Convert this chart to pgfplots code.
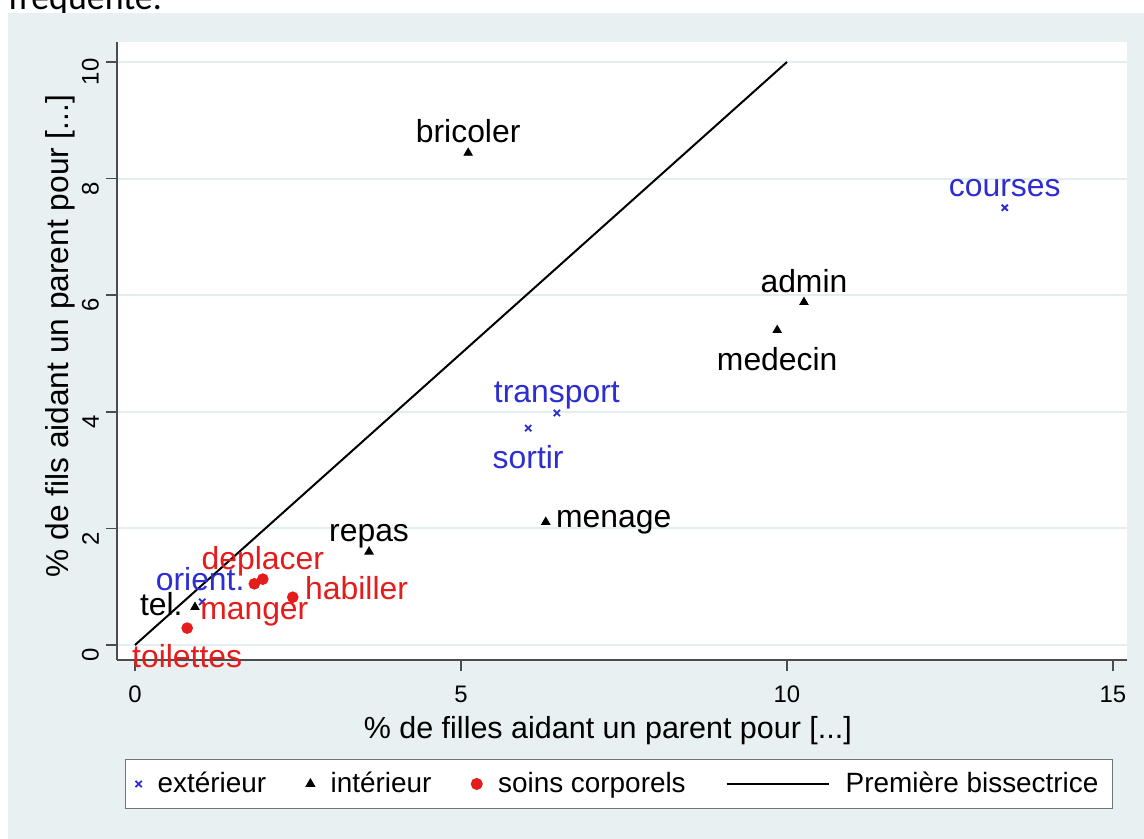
\documentclass[border=0pt]{standalone}
\usepackage{pgfplots}
\pgfplotsset{compat=1.18}
\usepackage{fontspec}
\setmainfont{Liberation Sans}
\newfontfamily\carlito{Carlito}

\definecolor{stblue}{RGB}{45,45,210}
\definecolor{stred}{RGB}{228,28,28}
\definecolor{bgblue}{RGB}{232,240,242}
\definecolor{gridc}{RGB}{228,237,240}

\pgfplotsset{
  ext/.style={mark=x, mark size=2.2bp, color=stblue, line width=0.9bp},
  int/.style={mark=triangle*, mark size=2.4bp, color=black},
  soin/.style={mark=*, mark size=2.7bp, color=stred},
  bislegend/.style={legend image code/.code={%
    \draw[black, line width=1bp] (0bp,0bp) -- (51bp,0bp);}},
  % text colour, anchor, xshift, yshift
  lbl/.style n args={4}{
    only marks, forget plot,
    point meta=explicit symbolic,
    nodes near coords={\pgfplotspointmeta},
    nodes near coords style={anchor=#2, xshift=#3, yshift=#4,
      inner sep=0pt, text=#1, font=\fontsize{16}{18}\selectfont},
  },
}

\begin{document}
\begin{tikzpicture}
\fill[white] (0,0) rectangle (572bp,419.5bp);
\fill[bgblue] (4bp,0) rectangle (572bp,413bp);
\begin{scope}
  \clip (0,413bp) rectangle (572bp,419.5bp);
  \node[anchor=base west, inner sep=0pt, font=\carlito\fontsize{18}{20}\selectfont]
    at (4bp,414.5bp) {fréquente.};
\end{scope}
\begin{axis}[
  at={(58.5bp,89.5bp)}, anchor=south west,
  scale only axis, width=505bp, height=309bp,
  xmin=-0.276, xmax=15.215, ymin=-0.257, ymax=10.343,
  axis lines*=left,
  axis line style={black!70, line width=0.8bp},
  axis background/.style={fill=white},
  xtick={0,5,10,15}, ytick={0,2,4,6,8,10},
  tick align=outside, major tick length=5.5bp,
  tick style={black!70, line width=0.8bp},
  ymajorgrids, grid style={gridc, line width=1bp},
  /pgf/number format/assume math mode=true,
  ticklabel style={font=\fontsize{12}{14}\selectfont},
  xticklabel style={yshift=-4bp},
  yticklabel style={rotate=90, anchor=south, xshift=-5bp},
  clip=false,
  xlabel={\% de filles aidant un parent pour [...]},
  ylabel={\% de fils aidant un parent pour [...]},
  xlabel style={font=\fontsize{15.3}{17}\selectfont,
    at={(axis description cs:0.486,-0.114)}, anchor=center},
  ylabel style={font=\fontsize{15.9}{18}\selectfont,
    at={(axis description cs:-0.0564,0.524)}, anchor=center},
  legend columns=4,
  legend style={at={(axis description cs:0.497,-0.2006)}, anchor=center,
    draw=black!55, fill=white, line width=0.6bp,
    font=\fontsize{14}{16}\selectfont,
    inner xsep=5bp, inner ysep=4.5bp,
    nodes={inner sep=2bp},
    /tikz/every odd column/.append style={column sep=6bp},
    /tikz/every even column/.append style={column sep=18bp}},
]
% exterieur
\addplot[ext, lbl={stblue}{base}{0bp}{5.5bp}] coordinates {(13.34,7.50) [courses]};
\addplot[ext, lbl={stblue}{base}{0bp}{5bp}] coordinates {(6.47,3.98) [transport]};
\addplot[ext, lbl={stblue}{base}{0bp}{-20bp}] coordinates {(6.03,3.72) [sortir]};
\addplot[ext, lbl={stblue}{base}{-1bp}{5.5bp}] coordinates {(1.03,0.74) [orient.]};
% interieur
\addplot[int, lbl={black}{base}{0bp}{5bp}] coordinates {(5.11,8.44) [bricoler]};
\addplot[int, lbl={black}{base}{0bp}{5bp}] coordinates {(10.26,5.88) [admin]};
\addplot[int, lbl={black}{base}{0bp}{-20bp}] coordinates {(9.85,5.40) [medecin]};
\addplot[int, lbl={black}{mid west}{5bp}{0bp}] coordinates {(6.30,2.11) [menage]};
\addplot[int, lbl={black}{base}{0bp}{5bp}] coordinates {(3.59,1.60) [repas]};
\addplot[int, lbl={black}{mid east}{-6bp}{-1.5bp}] coordinates {(0.92,0.65) [tel.]};
% soins corporels
\addplot[soin, lbl={stred}{base}{0bp}{5bp}] coordinates {(1.96,1.13) [deplacer]};
\addplot[soin, lbl={stred}{base}{0bp}{-18bp}] coordinates {(1.83,1.05) [manger]};
\addplot[soin, lbl={stred}{mid west}{6bp}{1.5bp}] coordinates {(2.42,0.82) [habiller]};
\addplot[soin, lbl={stred}{base}{0bp}{-19.5bp}] coordinates {(0.80,0.29) [toilettes]};
% premiere bissectrice
\addplot[black, line width=1bp, forget plot] coordinates {(0,0) (10,10)};

\addlegendimage{only marks, ext}
\addlegendentry{extérieur}
\addlegendimage{only marks, int}
\addlegendentry{intérieur}
\addlegendimage{only marks, soin}
\addlegendentry{soins corporels}
\addlegendimage{bislegend}
\addlegendentry{Première bissectrice}
\end{axis}
\end{tikzpicture}
\end{document}
